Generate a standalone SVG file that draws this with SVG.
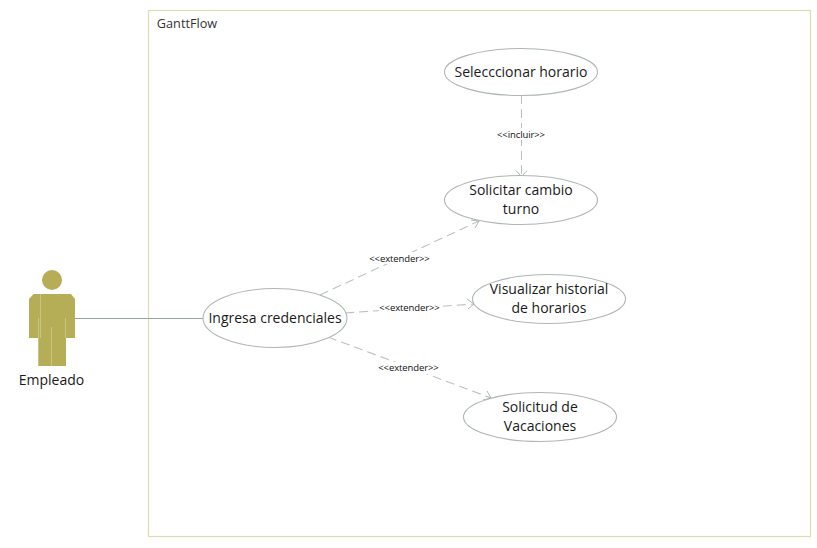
<svg xmlns="http://www.w3.org/2000/svg" width="817" height="548" viewBox="0 0 817 548">
<style>
text{font-family:"Open Sans","Noto Sans","DejaVu Sans",sans-serif;fill:#1a1a1a;text-anchor:middle}
.t{font-size:14px}
.s{font-size:9.500px;letter-spacing:-.1px;fill:#111}
.u{fill:#fff;stroke:#aeb7b2;stroke-width:1.100}
.d{fill:none;stroke:#bcc2bf;stroke-width:1.100;stroke-dasharray:9 5}
.h{fill:none;stroke:#aeb6b2;stroke-width:1}
.b{fill:#fff}
</style>
<rect width="817" height="548" fill="#fff"/>
<g id="system">
<rect x="148.500" y="10.500" width="662" height="526" fill="#fff" stroke="#dedcb0" stroke-width="1.200"/>
<text x="187" y="27.500" style="font-size:12.700px;fill:#333">GanttFlow</text>
</g>
<g id="connectors">
<line x1="75" y1="318.500" x2="204" y2="318.500" stroke="#93a69b" stroke-width="1.200"/>
<line class="d" x1="521.500" y1="95" x2="521.500" y2="176"/>
<path class="h" d="M516 170.500L521.500 176.500L527 170.500"/>
<line class="d" x1="320" y1="295" x2="479" y2="221"/>
<path class="h" d="M471 220L479 221L475 228"/>
<line class="d" x1="345" y1="313" x2="474" y2="304"/>
<path class="h" d="M467 299L474 304L468 309"/>
<line class="d" x1="328" y1="337" x2="491" y2="398"/>
<path class="h" d="M487 391L491 398L483 400"/>
<rect class="b" x="495" y="128" width="53" height="12"/>
<text class="s" x="521" y="137.500">&lt;&lt;incluir&gt;&gt;</text>
<rect class="b" x="369" y="252" width="61" height="12"/>
<text class="s" x="399.500" y="261.500">&lt;&lt;extender&gt;&gt;</text>
<rect class="b" x="379" y="302" width="61" height="12"/>
<text class="s" x="409.500" y="311">&lt;&lt;extender&gt;&gt;</text>
<rect class="b" x="378" y="362" width="61" height="12"/>
<text class="s" x="408.500" y="371">&lt;&lt;extender&gt;&gt;</text>
</g>
<g id="actor">
<circle cx="52" cy="280" r="10" fill="#b5ae57"/>
<path d="M33.500 294H71L75 299V338H66V366H38V338H29V299Z" fill="#b5ae57"/>
<path d="M40.500 294V338M38.500 318V366M51.500 327V366M65.500 318V338" stroke="#cdc98f" stroke-width=".8" fill="none"/>
<text x="51.500" y="385" style="font-size:14px">Empleado</text>
</g>
<g id="uc-ingresa">
<ellipse class="u" cx="275" cy="318" rx="72" ry="29.500"/>
<text class="t" x="275" y="322.500">Ingresa credenciales</text>
</g>
<g id="uc-seleccionar">
<ellipse class="u" cx="521" cy="72" rx="76.500" ry="23.500"/>
<text class="t" x="521" y="76.500">Selecccionar horario</text>
</g>
<g id="uc-solicitar">
<ellipse class="u" cx="521" cy="200" rx="76.500" ry="24.500"/>
<text class="t" x="521" y="195">Solicitar cambio</text>
<text class="t" x="521" y="214">turno</text>
</g>
<g id="uc-visualizar">
<ellipse class="u" cx="549" cy="299" rx="76.500" ry="24.500"/>
<text class="t" x="549" y="294">Visualizar historial</text>
<text class="t" x="549" y="313">de horarios</text>
</g>
<g id="uc-vacaciones">
<ellipse class="u" cx="540" cy="417" rx="76.500" ry="24.500"/>
<text class="t" x="540" y="412">Solicitud de</text>
<text class="t" x="540" y="431">Vacaciones</text>
</g>
</svg>
